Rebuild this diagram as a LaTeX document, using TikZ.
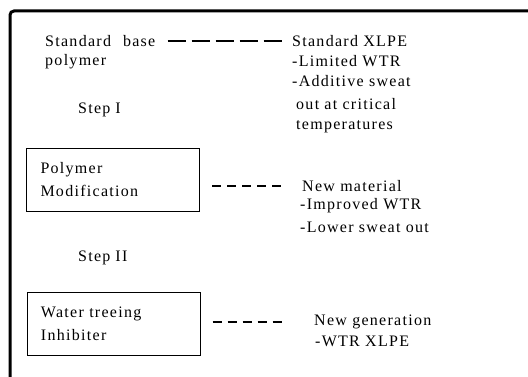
\documentclass[tikz,border=0pt]{standalone}
\usepackage{fontspec}
\setmainfont{Liberation Serif}[LetterSpace=8]
\usetikzlibrary{positioning}

\begin{document}
\begin{tikzpicture}[x=1pt,y=-1pt,font=\fontsize{16}{23}\selectfont]
      \tikzstyle{txt}=[anchor=west, inner sep=0pt]
      \tikzstyle{rectblock}=[rectangle, draw, line width=1pt, inner xsep=14pt, text width=145pt, minimum height=63pt, align=left]
      \tikzstyle{dashline}=[line width=1.5pt, dash pattern=on 9pt off 6pt]
      \useasboundingbox (0,0) rectangle (528,377);
      \draw[line width=3pt, rounded corners=4pt] (10,377) -- (10,11) -- (528,11);
      % left column
      \node[txt] (base) at (45,41) {Standard\hspace{12pt}base};
      \node[txt] (poly) at (45,62) {polymer};
      \node[txt] (stepone) at (78,110) {Step\hspace{5pt}I};
      \node[rectblock] (modbox) at (113,180) {Polymer\\Modification};
      \node[txt] (steptwo) at (78,258) {Step\hspace{5pt}II};
      \node[rectblock] (inhbox) at (113.5,324) {Water treeing\\Inhibiter};
      % right column
      \node[txt] (xlpe) at (292,41) {Standard XLPE};
      \node[txt] (limited) at (292,61) {-Limited WTR};
      \node[txt] (additive) at (292,81) {-Additive sweat};
      \node[txt] (critical) at (296,104) {out at critical};
      \node[txt] (temps) at (296,127) {temperatures};
      \node[txt] (newmat) at (302,186) {New material};
      \node[txt] (improved) at (300,206) {-Improved WTR};
      \node[txt] (lower) at (300,227) {-Lower sweat out};
      \node[txt] (newgen) at (314,322) {New generation};
      \node[txt] (wtr) at (315,341) {-WTR XLPE};
      % dashed links
      \draw[dashline, line width=2.5pt, dash pattern=on 18pt off 6pt, shorten <=12pt, shorten >=9pt] (base.east) -- (xlpe.west);
      \draw[dashline, shorten <=12pt, shorten >=21pt] (modbox.east |- newmat.west) -- (newmat.west);
      \draw[dashline, shorten <=12pt, shorten >=31pt] (inhbox.east |- newgen.west) -- (newgen.west);
    \end{tikzpicture}
\end{document}
